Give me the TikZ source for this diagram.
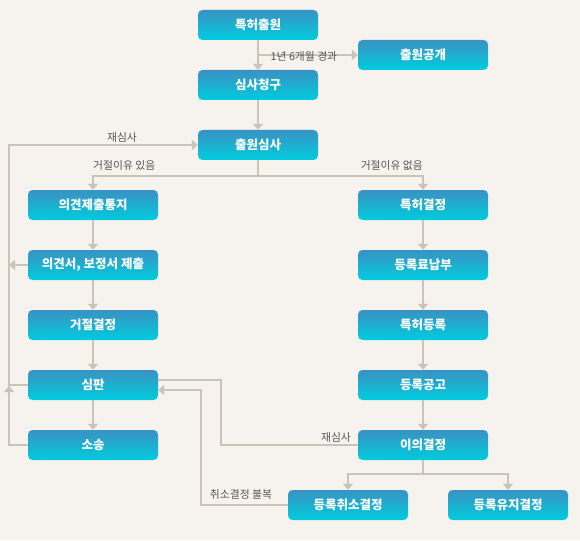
\documentclass[tikz,border=0pt]{standalone}
\usepackage{fontspec}
\newfontfamily\kr{Noto Sans CJK KR}
\usetikzlibrary{arrows.meta,calc}
\definecolor{bg}{HTML}{F6F3EF}
\definecolor{ln}{HTML}{CBC3B8}
\definecolor{btop}{HTML}{3A92C3}
\definecolor{bbot}{HTML}{00CCDE}
\definecolor{lbl}{HTML}{555555}
\begin{document}
\begin{tikzpicture}[x=1pt,y=-1pt,
  box/.style={rectangle,rounded corners=4.5pt,minimum height=30pt,minimum width=130pt,
    top color=btop,bottom color=bbot,text=white,inner sep=0pt,
    font=\kr\bfseries\fontsize{12.5}{13}\selectfont},
  nbox/.style={box,minimum width=120pt},
  line/.style={draw=ln,line width=2pt},
  arr/.style={line,-{Triangle[width=10pt,length=6pt]}},
  lab/.style={text=lbl,inner sep=0pt,font=\kr\fontsize{10.8}{12}\selectfont}]
\fill[bg] (0,0) rectangle (580,540);
\useasboundingbox (0,0) rectangle (580,540);
% nodes
\node[nbox] (n1) at (258,25) {특허출원};
\node[box]  (n2) at (423,55) {출원공개};
\node[nbox] (n3) at (258,85) {심사청구};
\node[nbox] (n4) at (258,145) {출원심사};
\node[box] (l1) at (93,205) {의견제출통지};
\node[box] (l2) at (93,265) {의견서, 보정서 제출};
\node[box] (l3) at (93,325) {거절결정};
\node[box] (l4) at (93,385) {심판};
\node[box] (l5) at (93,445) {소송};
\node[box] (r1) at (423,205) {특허결정};
\node[box] (r2) at (423,265) {등록료납부};
\node[box] (r3) at (423,325) {특허등록};
\node[box] (r4) at (423,385) {등록공고};
\node[box] (r5) at (423,445) {이의결정};
\node[nbox] (b1) at (348,505) {등록취소결정};
\node[nbox] (b2) at (508,505) {등록유지결정};
% coordinates
\coordinate (lx) at (9,145);
\coordinate (s1) at (258,176);
\coordinate (s2) at (423,474);
\coordinate (j1) at (221,380);
\coordinate (j2) at (201,390);
% connectors
\draw[arr] (n1) -- (n3);
\draw[arr] (n1.south |- n2.west) -- node[lab,xshift=-4pt,yshift=-1pt] {1년 6개월 경과} (n2.west);
\draw[arr] (n3) -- (n4);
\draw[line] (n4.south) -- (s1);
\draw[arr] (s1) -| (l1.north);
\draw[arr] (s1) -| (r1.north);
\node[lab,anchor=west] (t1) at (93,165) {거절이유 있음};
\node[lab,anchor=east] (t2) at (423,165) {거절이유 없음};
\draw[arr] (l1) -- (l2);
\draw[arr] (l2) -- (l3);
\draw[arr] (l3) -- (l4);
\draw[arr] (l4) -- (l5);
\draw[arr] (r1) -- (r2);
\draw[arr] (r2) -- (r3);
\draw[arr] (r3) -- (r4);
\draw[arr] (r4) -- (r5);
% left loop
\draw[arr] (l5.west) -| (lx) -- (n4.west);
\node[lab] (t3) at (122,137) {재심사};
\draw[arr] (l2.west) -- (l2.west -| lx);
\draw[line] (l4.west) -- (l4.west -| lx);
\draw[arr] ($(l4.west -| lx)+(0,7)$) -- ($(l4.west -| lx)+(0,1)$);
% opposition re-examination
\draw[line] (r5.west) -| (j1) -- (j1 -| l4.east);
\node[lab] (t4) at (336,437) {재심사};
\draw[arr] (b1.west) -| (j2) -- (j2 -| l4.east);
\node[lab] (t5) at (241,494) {취소결정 불복};
% bottom branch
\draw[line] (r5.south) -- (s2);
\draw[arr] (s2) -| (b1.north);
\draw[arr] (s2) -| (b2.north);
\end{tikzpicture}
\end{document}
